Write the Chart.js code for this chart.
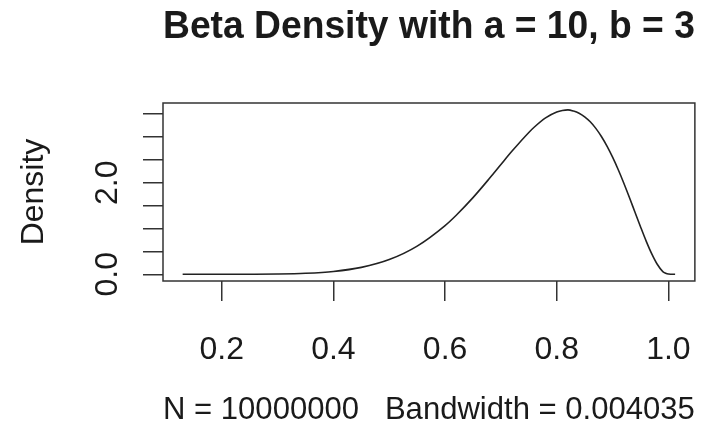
<!DOCTYPE html>
<html>
<head>
<meta charset="utf-8">
<script src="https://cdn.jsdelivr.net/npm/chart.js@4.4.1/dist/chart.umd.min.js"></script>
<style>
  html, body { margin: 0; padding: 0; background: #fff; }
  canvas { display: block; }
</style>
</head>
<body>
<canvas id="density" width="722" height="434"></canvas>
<script>
// density estimate
const xs = [0.13, 0.2, 0.25, 0.3, 0.35, 0.4, 0.45, 0.5, 0.55, 0.6,
            0.62, 0.65, 0.68, 0.7, 0.72, 0.75, 0.76, 0.78, 0.8, 0.81,
            0.82, 0.83, 0.84, 0.85, 0.86, 0.87, 0.88, 0.89, 0.9, 0.91,
            0.92, 0.93, 0.94, 0.95, 0.96, 0.97, 0.98, 0.99, 0.995, 1.0,
            1.005, 1.012];
const ys = [0, 0.0002, 0.0014, 0.006, 0.022, 0.062, 0.151, 0.322, 0.616, 1.064,
            1.29, 1.674, 2.101, 2.397, 2.69, 3.097, 3.216, 3.415, 3.543, 3.577,
            3.59, 3.565, 3.518, 3.439, 3.33, 3.186, 3.008, 2.798, 2.557, 2.288,
            1.995, 1.683, 1.361, 1.04, 0.731, 0.452, 0.22, 0.06, 0.025, 0.005,
            0.001, 0];
const xTicks = [0.2, 0.4, 0.6, 0.8, 1.0];
const yTicks = [0, 0.5, 1, 1.5, 2, 2.5, 3, 3.5];
const yLabels = [0, 2];
const titleText = 'Beta Density with a = 10, b = 3';
const subText = 'N = 10000000   Bandwidth = 0.004035';

const FONT = '"Liberation Sans", Arial, Helvetica, sans-serif';
const INK = '#1a1a1a';

// R-style box + rotated y labels
const rAxes = {
  id: 'rAxes',
  afterDraw(chart) {
    const ctx = chart.ctx;
    const a = chart.chartArea;
    const ys_ = chart.scales.y;
    ctx.save();
    ctx.strokeStyle = '#333';
    ctx.lineWidth = 1.5;
    ctx.strokeRect(a.left, a.top, a.right - a.left, a.bottom - a.top);
    ctx.fillStyle = INK;
    ctx.font = '32px ' + FONT;
    ctx.textAlign = 'center';
    ctx.textBaseline = 'alphabetic';
    yLabels.forEach(function (v) {
      ctx.save();
      ctx.translate(117, ys_.getPixelForValue(v));
      ctx.rotate(-Math.PI / 2);
      ctx.fillText(v.toFixed(1), 0, 0);
      ctx.restore();
    });
    ctx.restore();
  }
};

let ctx = document.getElementById('density').getContext('2d');
new Chart(ctx, {
  type: 'line',
  data: {
    datasets: [{
      data: xs.map((x, i) => ({ x: x, y: ys[i] })),
      borderColor: '#222',
      borderWidth: 1.6,
      pointRadius: 0,
      fill: false,
      cubicInterpolationMode: 'monotone'
    }]
  },
  options: {
    responsive: false,
    animation: false,
    layout: { padding: { left: 0, right: 26, top: 0, bottom: 0 } },
    plugins: {
      legend: { display: false },
      tooltip: { enabled: false },
      title: {
        display: true,
        text: titleText,
        fullSize: false,
        color: INK,
        font: { family: FONT, size: 39, weight: 'bold' },
        padding: { top: 4, bottom: 52.2 }
      },
      subtitle: {
        display: true,
        text: subText,
        position: 'bottom',
        fullSize: false,
        color: INK,
        font: { family: FONT, size: 32 },
        padding: { top: 0, bottom: 5 }
      }
    },
    scales: {
      x: {
        type: 'linear',
        min: 0.0948,
        max: 1.0474,
        afterBuildTicks: (s) => { s.ticks = xTicks.map(v => ({ value: v })); },
        afterFit: (s) => { s.height = 109.6; },
        border: { display: false },
        grid: { drawOnChartArea: false, drawTicks: true, tickLength: 20, color: '#333', lineWidth: 1.5 },
        ticks: {
          color: INK,
          font: { family: FONT, size: 32 },
          padding: 30,
          maxRotation: 0,
          callback: (v) => v.toFixed(1)
        }
      },
      y: {
        type: 'linear',
        min: -0.146,
        max: 3.74,
        afterBuildTicks: (s) => { s.ticks = yTicks.map(v => ({ value: v })); },
        afterFit: (s) => { s.width = 163; },
        border: { display: false },
        grid: { drawOnChartArea: false, drawTicks: true, tickLength: 20, color: '#333', lineWidth: 1.5 },
        ticks: { callback: () => '', font: { size: 1 } },
        title: {
          display: true,
          text: 'Density',
          color: INK,
          font: { family: FONT, size: 32 },
          padding: { top: 15, bottom: 0 }
        }
      }
    }
  },
  plugins: [rAxes]
});
</script>
</body>
</html>
